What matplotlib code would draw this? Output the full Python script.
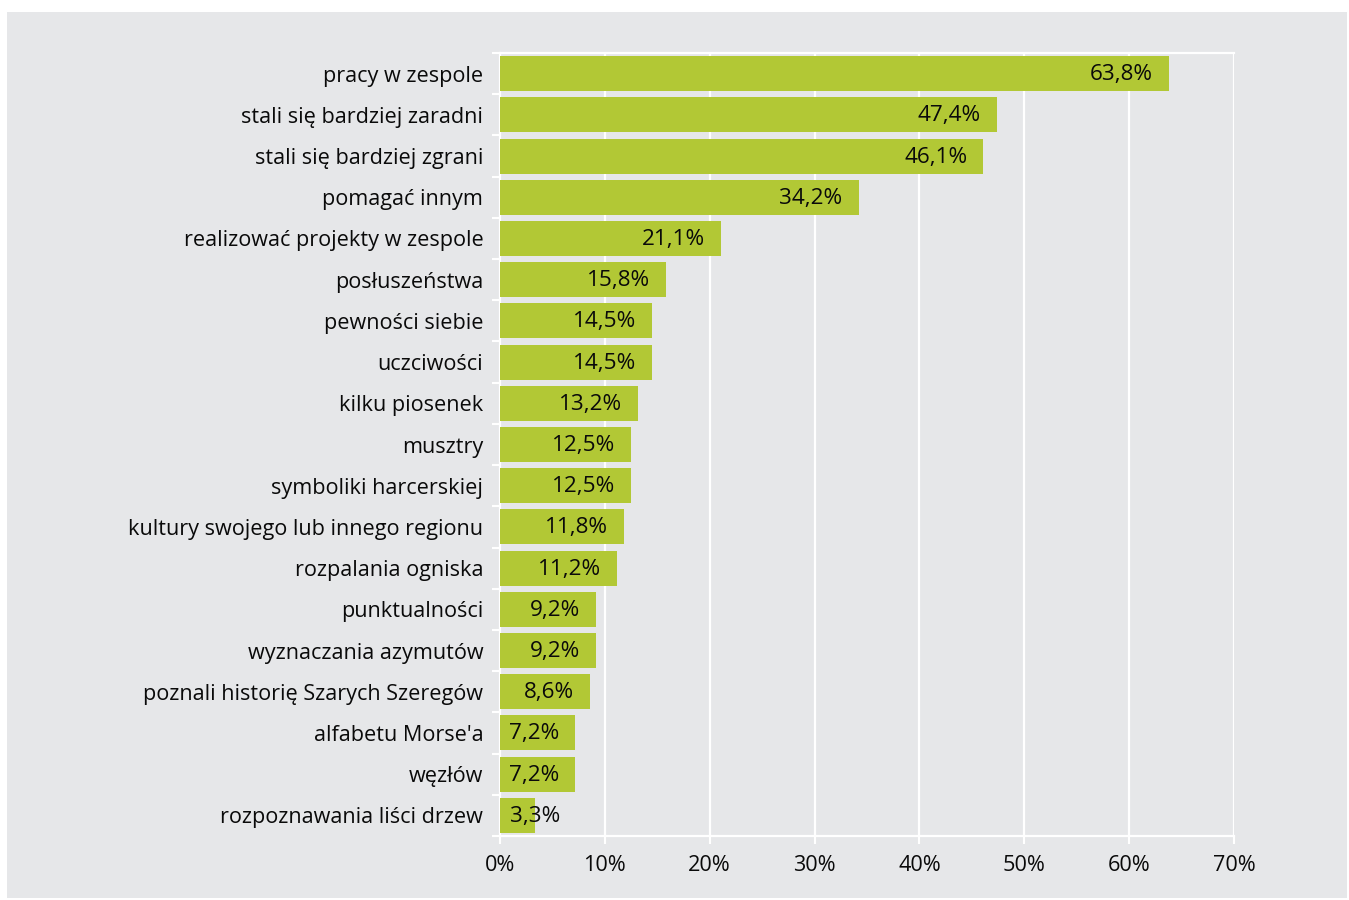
import matplotlib
matplotlib.use("Agg")
import matplotlib.pyplot as plt
from matplotlib.patches import Rectangle
from matplotlib.transforms import offset_copy

categories = [
    "pracy w zespole",
    "stali się bardziej zaradni",
    "stali się bardziej zgrani",
    "pomagać innym",
    "realizować projekty w zespole",
    "posłuszeństwa",
    "pewności siebie",
    "uczciwości",
    "kilku piosenek",
    "musztry",
    "symboliki harcerskiej",
    "kultury swojego lub innego regionu",
    "rozpalania ogniska",
    "punktualności",
    "wyznaczania azymutów",
    "poznali historię Szarych Szeregów",
    "alfabetu Morse'a",
    "węzłów",
    "rozpoznawania liści drzew",
]
values = [63.8, 47.4, 46.1, 34.2, 21.1, 15.8, 14.5, 14.5, 13.2, 12.5,
          12.5, 11.8, 11.2, 9.2, 9.2, 8.6, 7.2, 7.2, 3.3]
x_ticks = [0, 10, 20, 30, 40, 50, 60, 70]

BG = "#e6e7e9"
BAR = "#b2c835"
TEXT = "#0a0a0a"
FONT = ["Open Sans", "DejaVu Sans"]
plt.rcParams["font.family"] = FONT

W, H = 1349, 900
fig = plt.figure(figsize=(W / 100, H / 100), dpi=100)
fig.patch.set_facecolor("white")
fig.add_artist(Rectangle((7 / W, 1 - 898 / H), (1347 - 7) / W, (898 - 12) / H,
                         transform=fig.transFigure, facecolor=BG, edgecolor="none", zorder=0))

left, right, top, bottom = 500, 1234, 53, 836
ax = fig.add_axes([left / W, 1 - bottom / H, (right - left) / W, (bottom - top) / H])
ax.set_facecolor(BG)

n = len(categories)
ypos = list(range(n))
ax.barh(ypos, values, height=0.85, color=BAR, zorder=3)
ax.set_ylim(n - 0.5, -0.5)
ax.set_xlim(0, 70)

ax.set_xticks(x_ticks)
ax.set_xticklabels([f"{t}%" for t in x_ticks], fontsize=15.6, color=TEXT)
ax.set_yticks(ypos)
ax.set_yticklabels(categories, fontsize=15.6, color=TEXT)
ax.set_yticks([i - 0.5 for i in range(n + 1)], minor=True)
ax.tick_params(axis="y", which="major", length=0, pad=12)
ax.tick_params(axis="y", which="minor", length=6, width=1.5, color="white")
ax.tick_params(axis="x", length=6, width=1.5, color="white", pad=8)

for t in x_ticks[1:]:
    ax.axvline(t, color="white", lw=1.6, zorder=1)
for s in ax.spines.values():
    s.set_color("white")
    s.set_linewidth(1.6)
ax.spines["right"].set_visible(False)

for y, v in zip(ypos, values):
    label = f"{v:.1f}%".replace(".", ",")
    if v >= 6:
        tr = offset_copy(ax.transData, fig=fig, x=-16, y=-1, units="dots")
        ax.text(v, y, label, transform=tr, ha="right", va="center",
                fontsize=16.2, color=TEXT, zorder=4)
    else:
        tr = offset_copy(ax.transData, fig=fig, x=10, y=-1, units="dots")
        ax.text(0, y, label, transform=tr, ha="left", va="center",
                fontsize=16.2, color=TEXT, zorder=4)

fig.savefig("out.png", dpi=100, facecolor=fig.get_facecolor())
